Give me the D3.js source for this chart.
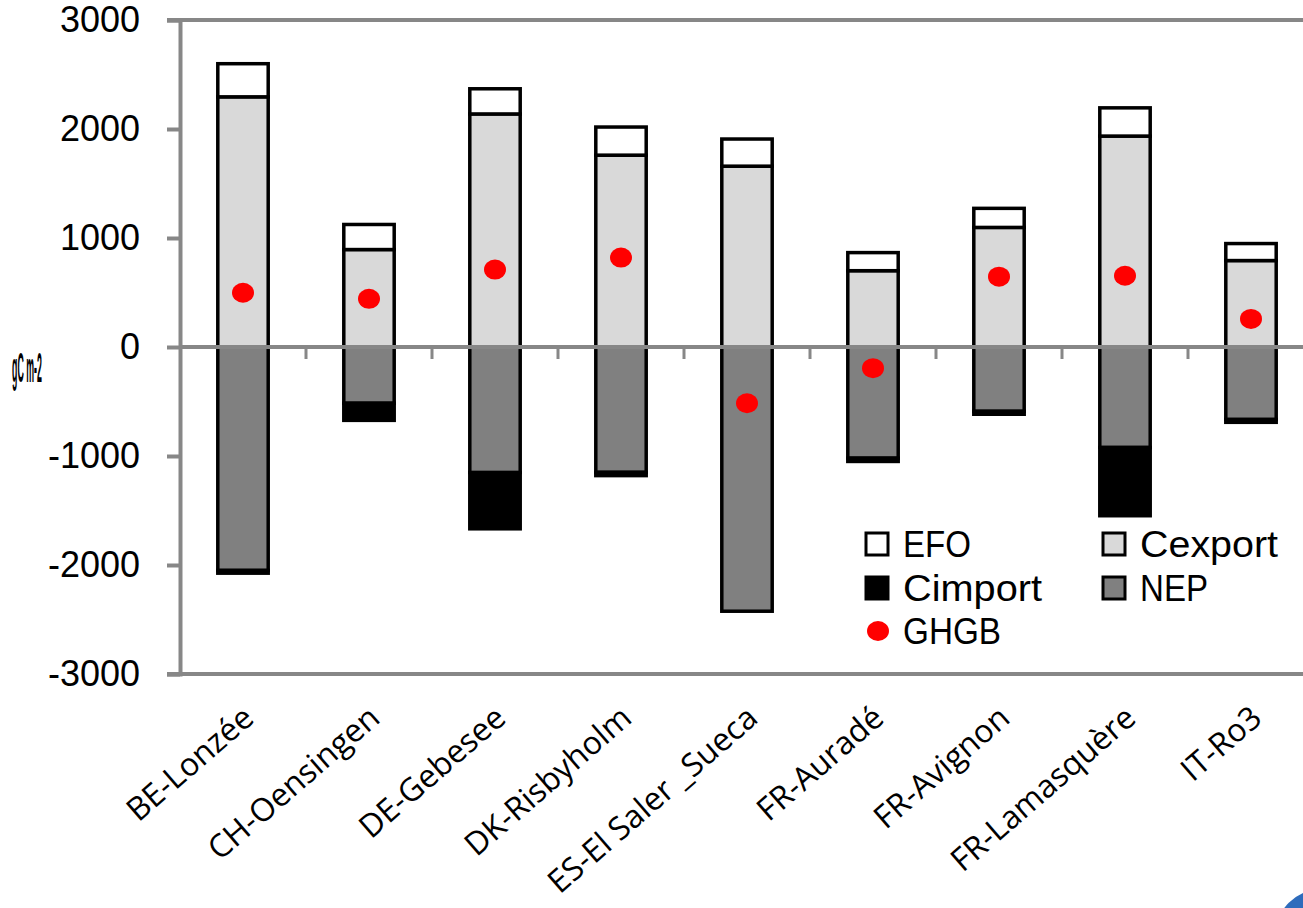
<!DOCTYPE html>
<meta charset="utf-8">
<head>
    <script src="https://d3js.org/d3.v7.min.js"></script>
    <style>
        body { margin: 0; background: #fff; }
        text { font-family: "Liberation Sans", Arial, sans-serif; }
        .xlab { font-family: "Open Sans", "Lato", sans-serif; }
    </style>
</head>
<body>
<div id="chart"></div>

<script>
    // chart values (gC m-2)
    const sites = ["BE-Lonzée", "CH-Oensingen", "DE-Gebesee", "DK-Risbyholm", "ES-El Saler _Sueca",
                   "FR-Auradé", "FR-Avignon", "FR-Lamasquère", "IT-Ro3"];
    const cexport = [2295, 894, 2138, 1760, 1659, 700, 1097, 1935, 793];
    const efo     = [304, 230, 231, 258, 249, 166, 175, 259, 156];
    const nep     = [-2050, -516, -1152, -1150, -2424, -1020, -590, -922, -665];
    const cimport = [-25, -157, -516, -30, 0, -30, -27, -626, -26];
    const ghgb    = [498, 442, 710, 820, -516, -194, 645, 654, 258];
    const yTicks  = [3000, 2000, 1000, 0, -1000, -2000, -3000];

    const keys = ["Cexport", "EFO", "NEP", "Cimport"];
    const colors = {EFO: "#ffffff", Cexport: "#d9d9d9", Cimport: "#000000", NEP: "#808080"};

    const rows = sites.map((s, i) => ({
        site: s, Cexport: cexport[i], EFO: efo[i], NEP: nep[i], Cimport: cimport[i], GHGB: ghgb[i]
    }));

    const W = 1303, H = 908;
    const svg = d3.select("#chart").append("svg")
        .attr("width", W)
        .attr("height", H);

    const x = d3.scaleBand()
        .domain(sites)
        .range([180, 1314])
        .padding(0);

    const y = d3.scaleLinear()
        .domain([-3000, 3000])
        .range([674, 20]);

    const barW = x.bandwidth() * 0.4;
    const axisColor = "#878787";

    // stacked bars
    const series = d3.stack()
        .keys(keys)
        .offset(d3.stackOffsetDiverging)(rows);

    svg.append("g")
        .selectAll("g")
        .data(series)
        .join("g")
        .attr("fill", d => colors[d.key])
        .selectAll("rect")
        .data(d => d.filter(p => p[0] !== p[1]))
        .join("rect")
        .attr("x", d => x(d.data.site) + (x.bandwidth() - barW) / 2)
        .attr("y", d => y(Math.max(d[0], d[1])))
        .attr("width", barW)
        .attr("height", d => Math.abs(y(d[0]) - y(d[1])))
        .attr("stroke", "#000")
        .attr("stroke-width", 3.5);

    // horizontal lines at -3000, 0, 3000
    svg.append("g")
        .selectAll("line")
        .data([3000, 0, -3000])
        .join("line")
        .attr("x1", d => d === 0 ? 180 : 167)
        .attr("x2", W)
        .attr("y1", d => y(d))
        .attr("y2", d => y(d))
        .attr("stroke", axisColor)
        .attr("stroke-width", 4);

    // category ticks on zero line
    svg.append("g")
        .selectAll("line")
        .data(sites.slice(1))
        .join("line")
        .attr("x1", d => x(d))
        .attr("x2", d => x(d))
        .attr("y1", y(0))
        .attr("y2", y(0) + 12)
        .attr("stroke", axisColor)
        .attr("stroke-width", 3);

    // left axis
    const leftAxis = d3.axisLeft(y)
        .tickValues(yTicks)
        .tickSize(13)
        .tickPadding(27)
        .tickFormat(d => String(d));

    const gy = svg.append("g")
        .attr("transform", "translate(180,0)")
        .call(leftAxis);
    gy.select(".domain").attr("stroke", axisColor).attr("stroke-width", 4);
    gy.selectAll(".tick line").attr("stroke", axisColor).attr("stroke-width", 4);
    gy.selectAll(".tick text")
        .attr("fill", "#000")
        .style("font-family", "'Liberation Sans', Arial, sans-serif")
        .style("font-size", "36px");

    // GHGB dots
    svg.append("g")
        .selectAll("ellipse")
        .data(rows)
        .join("ellipse")
        .attr("cx", d => x(d.site) + x.bandwidth() / 2)
        .attr("cy", d => y(d.GHGB))
        .attr("rx", 11)
        .attr("ry", 10)
        .attr("fill", "#ff0000");

    // x labels
    svg.append("g")
        .selectAll("text")
        .data(sites)
        .join("text")
        .attr("class", "xlab")
        .attr("transform", d => `translate(${x(d) + x.bandwidth() / 2 - 2},${704}) rotate(-41)`)
        .attr("text-anchor", "end")
        .attr("dy", "0.7em")
        .style("font-size", "32px")
        .text(d => d);

    // y label (squeezed as in the source)
    svg.append("text")
        .attr("transform", "translate(12,382) scale(0.21,1)")
        .style("font-size", "42px")
        .style("font-weight", "bold")
        .text("gC m-2");

    // legend
    const legendItems = [
        {key: "EFO", type: "box", x: 866, y: 544, w: 68},
        {key: "Cexport", type: "box", x: 1103, y: 544, w: 138},
        {key: "Cimport", type: "box", x: 866, y: 588, w: 139},
        {key: "NEP", type: "box", x: 1103, y: 588, w: 68},
        {key: "GHGB", type: "dot", x: 866, y: 631, w: 98}
    ];
    const lg = svg.append("g");
    legendItems.forEach(it => {
        if (it.type === "box") {
            lg.append("rect")
                .attr("x", it.x)
                .attr("y", it.y - 11)
                .attr("width", 22)
                .attr("height", 22)
                .attr("fill", colors[it.key])
                .attr("stroke", "#000")
                .attr("stroke-width", 3);
        } else {
            lg.append("ellipse")
                .attr("cx", it.x + 12)
                .attr("cy", it.y)
                .attr("rx", 11)
                .attr("ry", 10)
                .attr("fill", "#ff0000");
        }
        lg.append("text")
            .attr("x", it.x + 37)
            .attr("y", it.y)
            .attr("dy", "0.36em")
            .attr("textLength", it.w)
            .attr("lengthAdjust", "spacingAndGlyphs")
            .style("font-size", "37px")
            .text(it.key);
    });

    // corner logo fragment
    svg.append("circle")
        .attr("cx", 1322)
        .attr("cy", 936)
        .attr("r", 47)
        .attr("fill", "#2e6cbc");
</script>
</body>
